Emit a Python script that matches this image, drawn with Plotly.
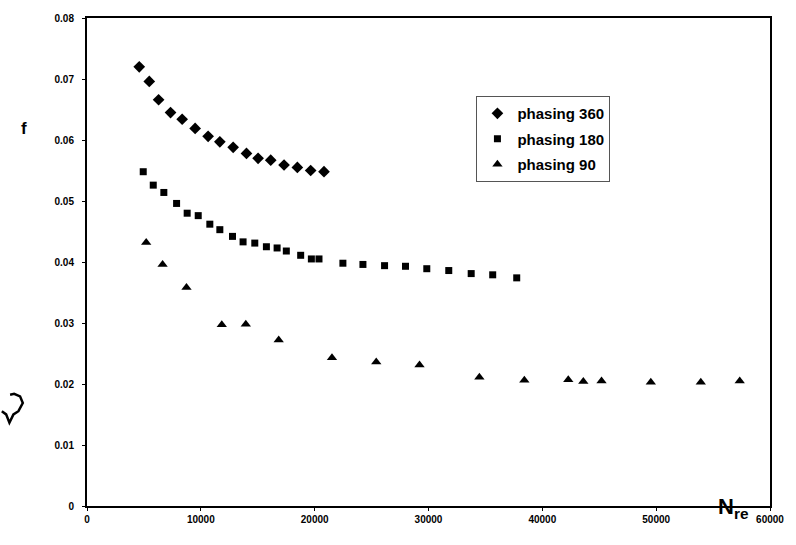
import plotly.graph_objects as go

# ---- data ----
x_360 = [4590, 5470, 6290, 7340, 8360, 9500, 10640, 11670, 12840, 14010,
         15030, 16140, 17310, 18480, 19650, 20820]
f_360 = [0.0720, 0.0696, 0.0666, 0.0645, 0.0634, 0.0619, 0.0606, 0.0597, 0.0588, 0.0578,
         0.0570, 0.0567, 0.0559, 0.0555, 0.0550, 0.0548]

x_180 = [4940, 5820, 6750, 7870, 8800, 9770, 10790, 11670, 12780, 13710,
         14740, 15760, 16700, 17510, 18770, 19710, 20380, 22480, 24240, 26140,
         27980, 29850, 31780, 33750, 35640, 37750]
f_180 = [0.0548, 0.0526, 0.0514, 0.0496, 0.0480, 0.0476, 0.0462, 0.0453, 0.0442, 0.0433,
         0.0431, 0.0425, 0.0423, 0.0418, 0.0411, 0.0405, 0.0405, 0.0398, 0.0396, 0.0394,
         0.0393, 0.0389, 0.0386, 0.0381, 0.0379, 0.0374]

x_90 = [5200, 6640, 8740, 11840, 13950, 16840, 21520, 25410, 29210, 34470,
        38420, 42280, 43600, 45200, 49530, 53920, 57340]
f_90 = [0.0432, 0.0396, 0.0358, 0.0297, 0.0298, 0.0272, 0.0243, 0.0236, 0.0231, 0.0211,
        0.0206, 0.0207, 0.0204, 0.0205, 0.0203, 0.0203, 0.0205]

series_names = ["phasing 360", "phasing 180", "phasing 90"]
x_ticks = [0, 10000, 20000, 30000, 40000, 50000, 60000]
y_ticks = [0, 0.01, 0.02, 0.03, 0.04, 0.05, 0.06, 0.07, 0.08]

W, H = 796, 545
ML, MR, MT, MB = 87, 25, 12, 39
PW, PH = W - ML - MR, H - MT - MB

FONT = "Liberation Sans, Arial, Helvetica, sans-serif"

fig = go.Figure()
fig.add_trace(go.Scatter(x=x_360, y=f_360, mode="markers", name=series_names[0],
                         legendgroup="a",
                         marker=dict(symbol="diamond", size=9, color="black")))
fig.add_trace(go.Scatter(x=x_180, y=f_180, mode="markers", name=series_names[1],
                         legendgroup="b",
                         marker=dict(symbol="square", size=7, color="black")))
fig.add_trace(go.Scatter(x=x_90, y=f_90, mode="markers", name=series_names[2],
                         legendgroup="c",
                         marker=dict(symbol="triangle-up", size=9, color="black")))

axis_common = dict(showgrid=False, zeroline=False, showline=True, linecolor="black",
                   linewidth=2, mirror=True, ticks="outside", ticklen=3, tickwidth=1,
                   tickcolor="black",
                   tickfont=dict(family=FONT, size=10, color="black", weight="bold"))

fig.update_xaxes(range=[0, 60000], tickvals=x_ticks,
                 ticktext=[str(v) for v in x_ticks], **axis_common)
fig.update_yaxes(range=[0, 0.08], tickvals=y_ticks,
                 ticktext=["0", "0.01", "0.02", "0.03", "0.04", "0.05", "0.06", "0.07", "0.08"],
                 ticklabelstandoff=6, **axis_common)


def px_to_paper(px, py):
    return (px - ML) / PW, (H - MB - py) / PH


# handwritten mark at the left margin (scan artifact)
pts = [(1.7, 410), (6, 413.3), (9.3, 421.7), (13.3, 413.3), (18.3, 410),
       (22.7, 401.7), (20, 395), (14, 392.5), (10, 393.3)]
path = ""
for i, (a, b) in enumerate(pts):
    u, v = px_to_paper(a, b)
    path += ("M" if i == 0 else "L") + f"{u:.4f},{v:.4f} "

fx, fy = px_to_paper(19, 112)
nx, ny = px_to_paper(752, 524)

fig.update_layout(
    width=W, height=H,
    margin=dict(l=ML, r=MR, t=MT, b=MB, pad=0),
    paper_bgcolor="white", plot_bgcolor="white",
    font=dict(family=FONT, color="black"),
    showlegend=True,
    legend=dict(x=(477 - ML) / PW, y=(H - MB - 91) / PH, xanchor="left", yanchor="top",
                bgcolor="white", bordercolor="#555555", borderwidth=1,
                font=dict(family=FONT, size=15, color="black", weight="bold"),
                itemwidth=30, tracegroupgap=3),
    shapes=[dict(type="path", xref="paper", yref="paper", path=path,
                 line=dict(color="black", width=2.5))],
    annotations=[
        dict(text="f", x=fx, y=fy, xref="paper", yref="paper", showarrow=False,
             font=dict(family=FONT, size=17, color="black", weight="bold")),
        dict(text="N<sub>re</sub>", x=nx, y=ny, xref="paper", yref="paper", showarrow=False,
             font=dict(family=FONT, size=22, color="black", weight="bold")),
    ],
)

fig.write_html("out.html")
